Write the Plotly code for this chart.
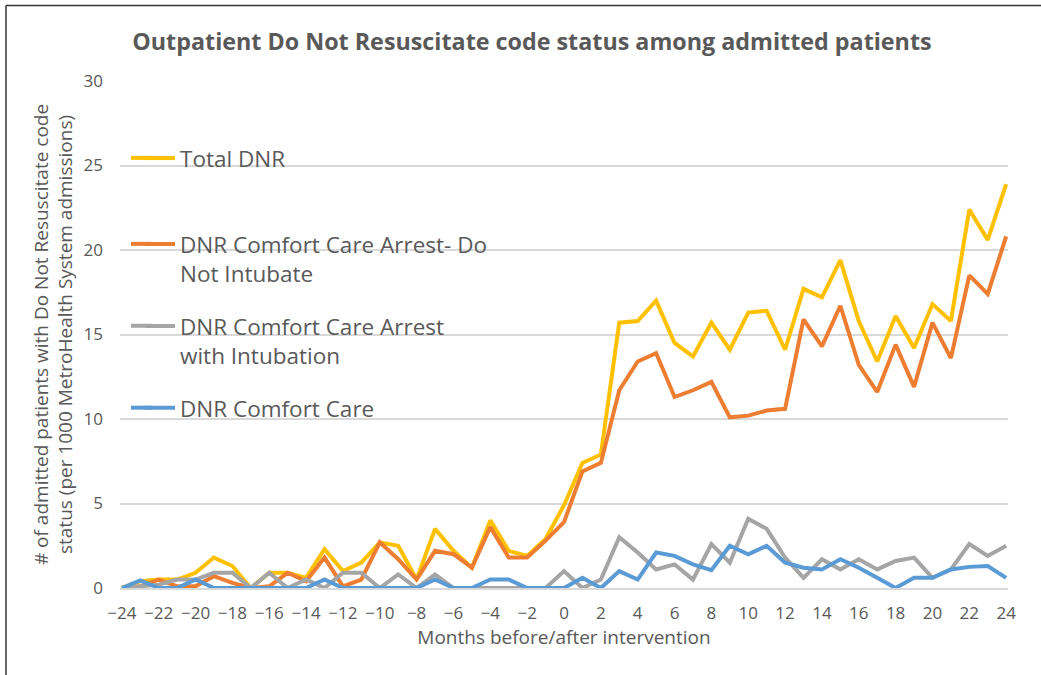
import plotly.graph_objects as go

months = list(range(-24, 25))

total_dnr = [0, 0.4, 0.5, 0.5, 0.9, 1.8, 1.3, 0, 0.9, 0.9, 0.6, 2.3, 1.0, 1.5, 2.7, 2.5,
             0.5, 3.5, 2.2, 1.2, 4.0, 2.2, 1.9, 2.9, 4.9, 7.4, 7.9, 15.7, 15.8, 17.0,
             14.5, 13.7, 15.7, 14.1, 16.3, 16.4, 14.1, 17.7, 17.2, 19.4, 15.8, 13.4,
             16.1, 14.2, 16.8, 15.8, 22.4, 20.6, 23.9]
cca_dni = [0, 0.1, 0.5, 0.1, 0.1, 0.7, 0.3, 0, 0.1, 0.9, 0.4, 1.8, 0.1, 0.5, 2.7, 1.7,
           0.5, 2.2, 2.0, 1.2, 3.6, 1.8, 1.8, 2.8, 3.9, 6.9, 7.4, 11.7, 13.4, 13.9,
           11.3, 11.7, 12.2, 10.1, 10.2, 10.5, 10.6, 15.9, 14.3, 16.7, 13.2, 11.6,
           14.4, 11.9, 15.7, 13.6, 18.5, 17.4, 20.8]
cca_intub = [0, 0.1, 0.2, 0.5, 0.5, 0.9, 0.9, 0, 0.9, 0, 0.5, 0, 0.9, 0.9, 0, 0.8,
             0, 0.8, 0, 0, 0, 0, 0, 0, 1.0, 0, 0.5, 3.0, 2.1, 1.1,
             1.4, 0.5, 2.6, 1.5, 4.1, 3.5, 1.8, 0.6, 1.7, 1.1, 1.7, 1.1,
             1.6, 1.8, 0.6, 1.1, 2.6, 1.9, 2.5]
comfort_care = [0, 0.45, 0, 0, 0.5, 0, 0, 0, 0, 0, 0, 0.5, 0, 0, 0, 0,
                0, 0.5, 0, 0, 0.5, 0.5, 0, 0, 0, 0.6, 0, 1.0, 0.5, 2.1,
                1.9, 1.4, 1.05, 2.5, 2.0, 2.5, 1.5, 1.2, 1.1, 1.7, 1.2, 0.6,
                0, 0.6, 0.6, 1.1, 1.25, 1.3, 0.6]

series_names = ["Total DNR",
                "DNR Comfort Care Arrest- Do<br>Not Intubate",
                "DNR Comfort Care Arrest<br>with Intubation",
                "DNR Comfort Care"]
series_values = [total_dnr, cca_dni, cca_intub, comfort_care]
series_colors = ["#FFC000", "#ED7D31", "#A5A5A5", "#5B9BD5"]
legend_ids = ["legend", "legend2", "legend3", "legend4"]

FONT = "Open Sans"
GRAY = "#595959"

W, H = 1041, 675
L, R, T, B = 120, 33, 81, 86.5
plot_h = H - T - B
plot_w = W - L - R

def px_x(x):
    return (x - L) / plot_w

def px_y(y):
    return (H - B - y) / plot_h

fig = go.Figure()
for name, vals, col, lg in zip(series_names, series_values, series_colors, legend_ids):
    fig.add_trace(go.Scatter(x=months, y=vals, mode="lines", name=name,
                             line=dict(color=col, width=4), legend=lg))

legend_tops = [137, 223, 305, 387]
sample_y = [158, 244, 326, 408]
legend_common = dict(font=dict(family=FONT, size=22.5, color=GRAY),
                     bgcolor="rgba(0,0,0,0)", borderwidth=0,
                     xanchor="left", yanchor="top", valign="top",
                     tracegroupgap=0)
legends = {}
for lg, top in zip(legend_ids, legend_tops):
    legends[lg] = dict(x=px_x(140), y=px_y(top), **legend_common)

shapes = [
    dict(type="line", xref="paper", yref="paper", x0=px_x(6), x1=px_x(W + 5),
         y0=px_y(5.5), y1=px_y(5.5), line=dict(color="#333333", width=1.5)),
    dict(type="line", xref="paper", yref="paper", x0=px_x(6), x1=px_x(6),
         y0=px_y(5.5), y1=px_y(H + 5), line=dict(color="#333333", width=1.5)),
]
for col, sy in zip(series_colors, sample_y):
    shapes.append(dict(type="line", xref="paper", yref="paper",
                       x0=px_x(131), x1=px_x(152), y0=px_y(sy), y1=px_y(sy),
                       line=dict(color=col, width=4)))

fig.update_layout(
    width=W, height=H,
    margin=dict(l=L, r=R, t=T, b=B),
    paper_bgcolor="white", plot_bgcolor="white",
    title=dict(text="<b>Outpatient Do Not Resuscitate code status among admitted patients</b>",
               x=0.511, xanchor="center", y=1 - 42 / H, yanchor="middle",
               font=dict(family=FONT, size=23.3, color=GRAY)),
    showlegend=True,
    xaxis=dict(range=[-24.1, 24.1], tickmode="linear", tick0=-24, dtick=2,
               showgrid=False, zeroline=False, showline=True, linecolor="#D9D9D9",
               linewidth=1.5, ticks="", ticklabelstandoff=9,
               tickfont=dict(family=FONT, size=17, color=GRAY),
               title=dict(text="Months before/after intervention", standoff=5,
                          font=dict(family=FONT, size=19, color=GRAY))),
    yaxis=dict(range=[0, 30], tickmode="linear", tick0=0, dtick=5,
               showgrid=True, gridcolor="#D9D9D9", gridwidth=1.5, zeroline=False,
               ticks="", ticklabelstandoff=16,
               tickfont=dict(family=FONT, size=17, color=GRAY),
               title=dict(text="# of admitted patients with Do Not Resuscitate code<br>status (per 1000 MetroHealth System admissions)",
                          standoff=5, font=dict(family=FONT, size=19, color=GRAY))),
    **legends,
    shapes=shapes,
)

fig.write_html("out.html", config={"displayModeBar": False},
               post_script="document.body.style.margin='0';")
